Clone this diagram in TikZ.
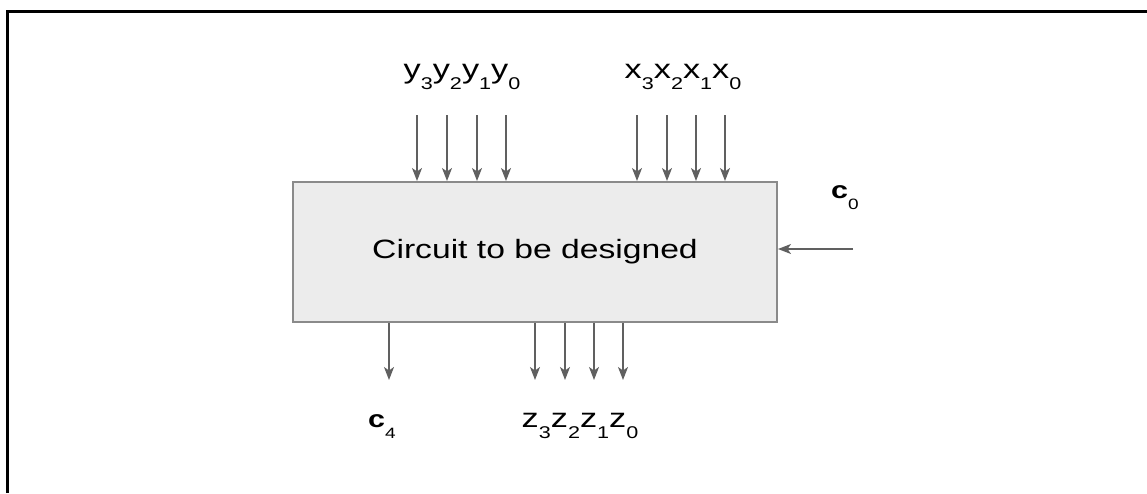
\documentclass[tikz,border=0pt]{standalone}
\usepackage{fontspec}
\setmainfont{Liberation Sans}
\usepackage{graphicx}
\usetikzlibrary{arrows.meta}
\definecolor{arrowgray}{HTML}{606060}
\definecolor{boxgray}{HTML}{8A8A8A}
\definecolor{boxfill}{HTML}{ECECEC}
\newcommand\sbx[1]{\raisebox{-11pt}{\fontsize{17}{17}\selectfont #1}}
\newcommand\stretched[1]{\scalebox{1.27}[1]{#1}}
\begin{document}
\begin{tikzpicture}[x=1pt,y=1pt,
  sig/.style={draw=arrowgray, line width=1.5pt, -{Stealth[length=13pt,width=10pt,inset=3.5pt]}},
  lab/.style={inner sep=0pt, anchor=base, font=\fontsize{27}{27}\selectfont},
  clab/.style={inner sep=0pt, anchor=base, font=\fontsize{24}{24}\selectfont}]
\useasboundingbox (0,0) rectangle (1147,-493);
\draw[line width=3pt] (7.5,-493) -- (7.5,-11.5) -- (1147,-11.5);
\node[draw=boxgray, fill=boxfill, line width=2pt, minimum width=484pt, minimum height=139.5pt, inner sep=0pt, anchor=north west] (box) at (292,-181) {};
\node[font=\fontsize{26.5}{26.5}\selectfont, inner sep=0pt] (title) at (box.center) {\stretched{Circuit to be designed}};
% input arrows y and x
\foreach \n/\x in {y3/417, y2/447, y1/477, y0/506, x3/637, x2/667, x1/696, x0/725} {
  \coordinate (\n s) at (\x,-115);
  \draw[sig] (\n s) -- (\n s |- box.north);
}
% output arrows
\foreach \n/\x in {c4/389, z3/535, z2/565, z1/594, z0/623} {
  \coordinate (\n e) at (\x,-380);
  \draw[sig] (\n e |- box.south) -- (\n e);
}
\coordinate (c0s) at (853,-249);
\draw[sig] (c0s) -- (c0s -| box.east);
% labels
\node[lab] (ylab) at (462,-78) {\stretched{y\sbx{3}y\sbx{2}y\sbx{1}y\sbx{0}}};
\node[lab] (xlab) at (683,-78) {\stretched{x\sbx{3}x\sbx{2}x\sbx{1}x\sbx{0}}};
\node[lab] (zlab) at (580,-427) {\stretched{z\sbx{3}z\sbx{2}z\sbx{1}z\sbx{0}}};
\node[clab] (c0lab) at (845,-198) {\stretched{\textbf{c}\raisebox{-11pt}{\fontsize{15}{15}\selectfont 0}}};
\node[clab] (c4lab) at (382,-427) {\stretched{\textbf{c}\raisebox{-11pt}{\fontsize{15}{15}\selectfont 4}}};
\end{tikzpicture}
\end{document}
